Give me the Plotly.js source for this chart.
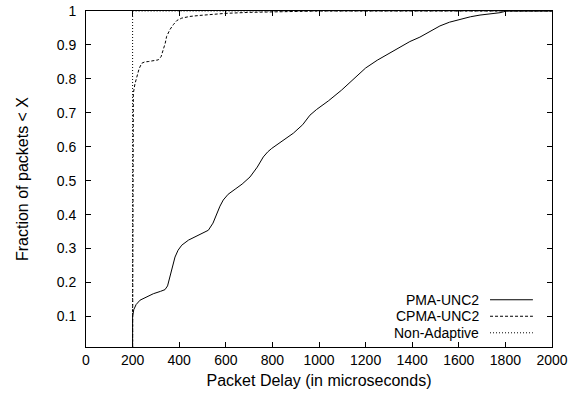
<!DOCTYPE html>
<html>
<head>
<meta charset="utf-8">
<script src="https://cdn.plot.ly/plotly-3.0.1.min.js"></script>
<style>html,body{margin:0;padding:0;background:#fff;}#chart{width:576px;height:397px;}</style>
</head>
<body>
<div id="chart"></div>
<script>
const seriesNames = ["PMA-UNC2", "CPMA-UNC2", "Non-Adaptive"];

const pmaX = [200,200,205,215,232,260,289,320,339,350,360,370,382,395,411,440,475,500,525,545,561,575,589,610,640,670,704,735,761,780,797,840,890,930,961,990,1040,1097,1150,1200,1250,1300,1348,1390,1433,1475,1519,1560,1605,1650,1691,1740,1777,1805,1850,2000];
const pmaY = [0.01,0.1,0.12,0.135,0.148,0.158,0.167,0.174,0.179,0.19,0.216,0.245,0.275,0.295,0.31,0.325,0.337,0.345,0.354,0.375,0.403,0.425,0.443,0.46,0.475,0.49,0.511,0.54,0.57,0.585,0.595,0.615,0.64,0.665,0.693,0.71,0.735,0.767,0.8,0.832,0.855,0.875,0.895,0.91,0.923,0.94,0.956,0.967,0.976,0.983,0.988,0.992,0.995,1.0,1.0,1.0];

const cpmaX = [200,200,203,210,218,228,239,252,267,290,310,322,332,340,346,360,375,390,411,446,489,540,597,700,800,1000,2000];
const cpmaY = [0.01,0.7,0.757,0.785,0.806,0.83,0.846,0.85,0.851,0.853,0.856,0.865,0.885,0.905,0.925,0.945,0.96,0.972,0.979,0.984,0.987,0.99,0.993,0.996,0.998,1,1];

const naX = [200,200,2000];
const naY = [0.01,1,1];

const xTicks = [0,200,400,600,800,1000,1200,1400,1600,1800,2000];
const yTicks = [0.1,0.2,0.3,0.4,0.5,0.6,0.7,0.8,0.9,1];
const yTickText = ["0.1","0.2","0.3","0.4","0.5","0.6","0.7","0.8","0.9","1"];

const dashes = ["solid", "3px,2px", "1px,2px"];
const font = "Liberation Sans, Arial, Helvetica, sans-serif";

const traces = [
  {x: pmaX, y: pmaY, mode: "lines", name: seriesNames[0], line: {color: "#000", width: 1, dash: dashes[0]}},
  {x: cpmaX, y: cpmaY, mode: "lines", name: seriesNames[1], line: {color: "#000", width: 1, dash: dashes[1]}},
  {x: naX, y: naY, mode: "lines", name: seriesNames[2], line: {color: "#000", width: 1, dash: dashes[2]}}
];

const legRowsY = [0.1406, 0.0915, 0.0423];
const annotations = seriesNames.map((n, i) => ({
  xref: "paper", yref: "paper", x: 0.8455, y: legRowsY[i], xanchor: "right", yanchor: "middle",
  text: n, showarrow: false, borderpad: 0, font: {family: font, size: 14, color: "#000"}
}));
const shapes = seriesNames.map((n, i) => ({
  type: "line", xref: "paper", yref: "paper", x0: 0.867, x1: 0.959, y0: legRowsY[i], y1: legRowsY[i],
  line: {color: "#000", width: 1, dash: dashes[i]}
}));

const layout = {
  width: 576, height: 397,
  margin: {l: 86, r: 24, t: 11, b: 50},
  paper_bgcolor: "#fff", plot_bgcolor: "#fff",
  showlegend: false,
  font: {family: font, color: "#000"},
  xaxis: {
    range: [0, 2000], tickvals: xTicks, ticktext: xTicks.map(String),
    ticks: "inside", ticklen: 5, tickcolor: "#000", mirror: "ticks",
    showline: true, linecolor: "#000", linewidth: 1, showgrid: false, zeroline: false,
    tickfont: {family: font, size: 14, color: "#000"},
    title: {text: "Packet Delay (in microseconds)", font: {family: font, size: 16, color: "#000"}, standoff: 8}
  },
  yaxis: {
    range: [0.01, 1], tickvals: yTicks, ticktext: yTickText,
    ticks: "inside", ticklen: 5, tickcolor: "#000", mirror: "ticks",
    showline: true, linecolor: "#000", linewidth: 1, showgrid: false, zeroline: false,
    tickfont: {family: font, size: 14, color: "#000"}, ticklabelstandoff: 6,
    title: {text: "Fraction of packets < X", font: {family: font, size: 16, color: "#000"}, standoff: 24}
  },
  annotations: annotations,
  shapes: shapes
};

Plotly.newPlot("chart", traces, layout, {displayModeBar: false, staticPlot: true});
</script>
</body>
</html>
